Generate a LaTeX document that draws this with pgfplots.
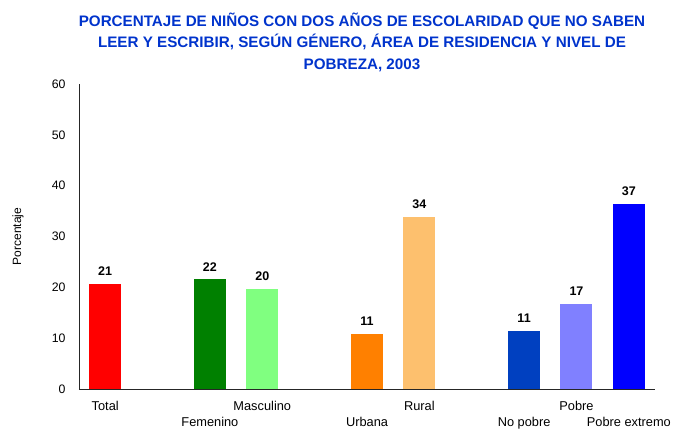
\documentclass[border=0pt]{standalone}
\usepackage{pgfplots}
\pgfplotsset{compat=1.18}
\usepackage{fontspec}
\setmainfont{Liberation Sans}
\definecolor{titleblue}{RGB}{0,51,204}
\definecolor{cTotal}{RGB}{255,0,0}
\definecolor{cFem}{RGB}{0,128,0}
\definecolor{cMas}{RGB}{128,255,128}
\definecolor{cUrb}{RGB}{255,128,0}
\definecolor{cRur}{RGB}{253,192,110}
\definecolor{cNoP}{RGB}{0,64,192}
\definecolor{cPob}{RGB}{128,128,255}
\definecolor{cExt}{RGB}{0,0,255}
\begin{document}
\begin{tikzpicture}
\begin{axis}[
  name=ax,
  scale only axis, width=576pt, height=305pt,
  xmin=-0.5, xmax=10.5, ymin=0, ymax=60,
  axis x line=bottom, axis y line=left,
  axis line style={-, line width=0.8pt, black!85},
  major tick length=0pt,
  ytick={0,10,20,30,40,50,60},
  xtick={0,2,3,5,6,8,9,10},
  xticklabels={\strut Total, \strut\\\strut Femenino, \strut Masculino, \strut\\\strut Urbana, \strut Rural, \strut\\\strut No pobre, \strut Pobre, \strut\\\strut Pobre extremo},
  xticklabel style={align=center, font=\fontsize{12.8}{16}\selectfont, yshift=-7pt},
  yticklabel style={font=\fontsize{12.3}{13}\selectfont, xshift=-10pt},
  /pgf/number format/assume math mode=true,
  ybar, bar shift=0pt, bar width=0.61,
  point meta=explicit symbolic,
  nodes near coords,
  every node near coord/.append style={anchor=center, yshift=12.5pt, font=\bfseries\fontsize{12.5}{13}\selectfont, text=black},
  clip=false,
]
\addplot[fill=cTotal, draw=none] coordinates {(0,20.7) [21]};
\addplot[fill=cFem, draw=none] coordinates {(2,21.6) [22]};
\addplot[fill=cMas, draw=none] coordinates {(3,19.7) [20]};
\addplot[fill=cUrb, draw=none] coordinates {(5,10.8) [11]};
\addplot[fill=cRur, draw=none] coordinates {(6,33.8) [34]};
\addplot[fill=cNoP, draw=none] coordinates {(8,11.4) [11]};
\addplot[fill=cPob, draw=none] coordinates {(9,16.7) [17]};
\addplot[fill=cExt, draw=none] coordinates {(10,36.4) [37]};
\end{axis}
\node[align=center, text=titleblue, font=\bfseries\fontsize{15.2}{21.5}\selectfont] at ([xshift=283pt, yshift=42pt]ax.north west)
  {PORCENTAJE DE NIÑOS CON DOS AÑOS DE ESCOLARIDAD QUE NO SABEN\\LEER Y ESCRIBIR, SEGÚN GÉNERO, ÁREA DE RESIDENCIA Y NIVEL DE\\POBREZA, 2003};
\node[rotate=90, font=\fontsize{12}{13}\selectfont] at ([xshift=-61pt]ax.west) {Porcentaje};
\pgfresetboundingbox
\path[use as bounding box] ([xshift=-79pt, yshift=-51pt]ax.south west) rectangle ++(679pt,440pt);
\end{tikzpicture}
\end{document}
